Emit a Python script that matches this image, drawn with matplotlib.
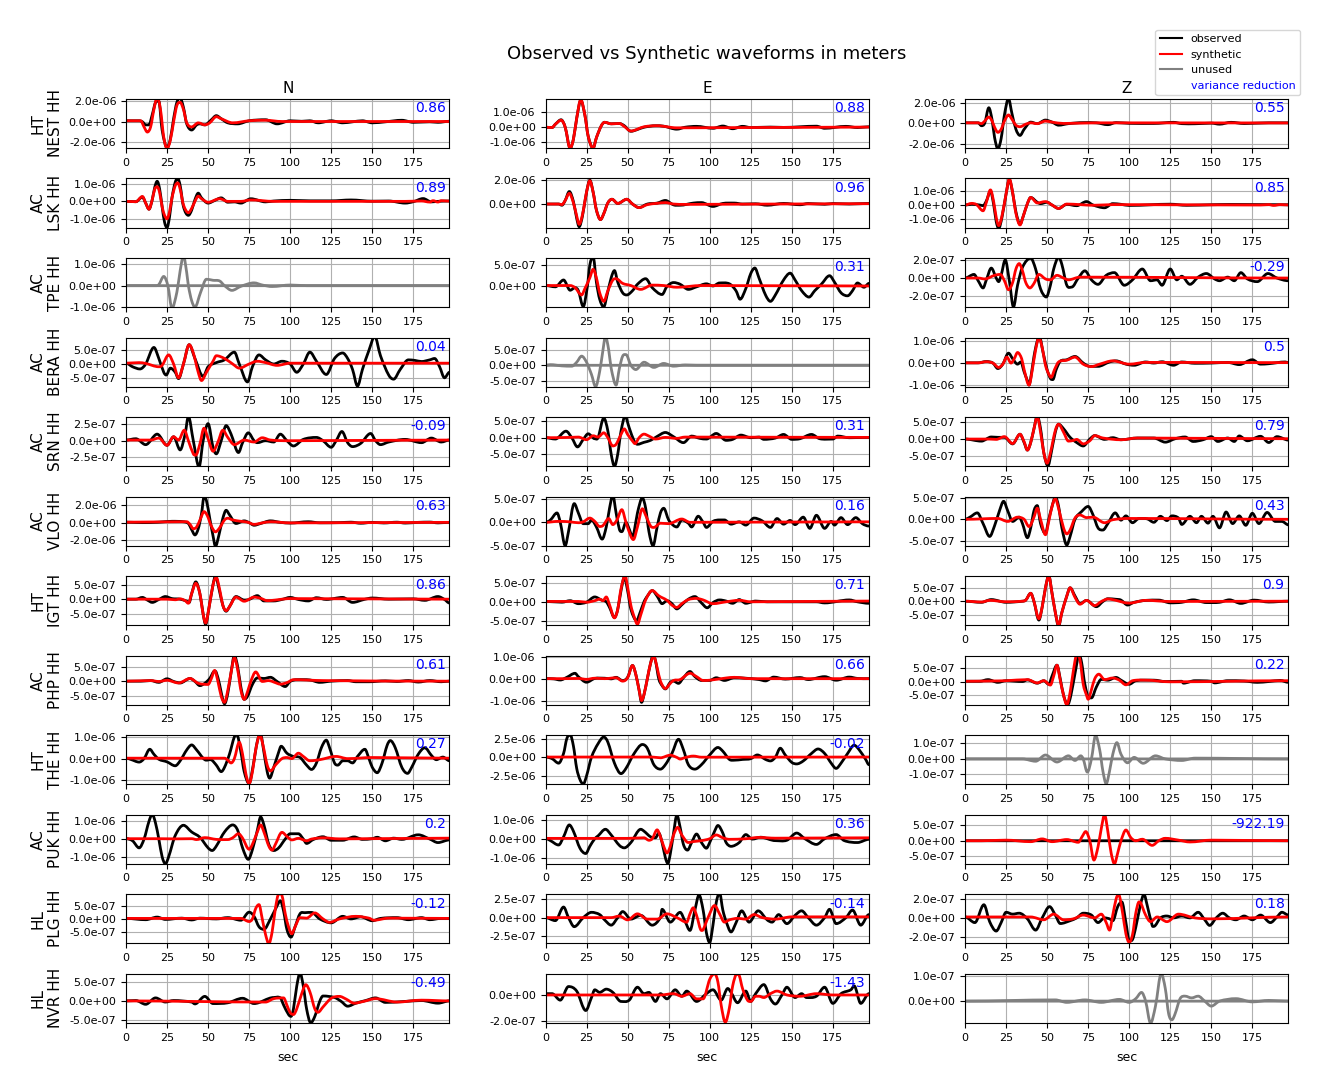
import matplotlib
matplotlib.use("Agg")
import matplotlib.pyplot as plt
from matplotlib.lines import Line2D
from matplotlib.patches import PathPatch
from matplotlib.path import Path

UNIT = 1e-7  # all amplitude lists below are in units of 1e-7 m

# ---------- column N ----------
n_nest_obs_t=[0,8,10,12,14,16,18,20,22,25,27,29,31,33,35,37,40,43,45,48,52,55,58,62,68,75,85,92,100,107,112,117,125,132,138,144,150,158,168,175,185,190,197]
n_nest_obs_y=[1,1,0,-3,-3,7,19,20,-8,-25,-17,3,19,23,14,-2,-8,-3,-2,-3,2,6,3,-1,-2,1,2,-2,1,0.5,1,-1,1,-1,0,1,-1,0,1.5,-0.5,0,-0.5,0.5]
n_nest_syn_t=[0,9,11,13,15,17,19,21,23,25,27,29,31,33,35,37,40,44,48,51,55,58,65,75,85,95,197]
n_nest_syn_y=[1,1,-5,-10,-5,12,24,12,-15,-26,-18,0,16,19,12,-1,-5,-1,-3,-1,5,3,-1,1,1.5,0.3,0.3]
n_lsk_obs_t=[0,6,10,12,14,16,17.5,19,20.5,22,23.5,25,26.5,28,30,31.5,33,35,38,40,42,44,46,50,54,58,62,66,70,76,85,90,100,112,125,137,150,160,170,175,181,186,190,197]
n_lsk_obs_y=[0,-0.2,2.5,-1,-4.5,1,8,11.5,7,-3,-12,-15,-9,2,11,13,9,-3,-8,-5,1,4.7,2,-1,0.5,2,-0.5,-0.3,-1,1.5,-0.3,0.2,0.6,0.3,0.3,0.8,0.1,0.2,-1,-0.2,1.6,-0.3,0,0.2]
n_lsk_syn_t=[0,6,10,12,14,16,17.5,19,20.5,22,23.5,25,26.5,28,30,31.5,33,35,38,40,42,44,46,50,57,62,70,76,90,170,180,185,187,190,192,197]
n_lsk_syn_y=[0,-0.2,2.8,-1,-4.5,1,7,8.4,5,-3,-8,-10,-6,2,9,10.6,7,-2,-6.5,-4,0,3,1.5,-0.5,1.5,0,0,0.8,0,0,0.2,-0.4,0.4,-0.4,0.4,0.1]
n_tpe_obs_t=[0,197]
n_tpe_obs_y=[0,0]
n_tpe_syn_t=[0,18,20,23,25.5,28,31,33,35,37,38,40,42,45.5,49,53,57,60,64.5,70,78,83,89,100,110,197]
n_tpe_syn_y=[0,0,0.5,4.3,0,-10.5,-3,7,14,6,0,-7,-10,-3,3,2.5,2.2,0,-2.2,-0.3,1.3,0.3,-0.4,0.3,0,0]
n_bera_obs_t=[0,4,8.5,12,17,20,23,24.5,27,30,32,35,38.5,42,47,50,55,60,66,69,74,77,81,85,90,95,100,104,108,112,116,122,127,132,135,138,141,144,148,151.5,155,160,163,167,172,176,180,185,188,191,194,197]
n_bera_obs_y=[0.3,-1,-1.8,0,6,2,-3,-4,-1.5,-3,-5.3,0,7,2,-4.5,-1,0.5,1.5,4.3,0,-6.5,-1,3.3,1.5,0,1,0,-3,0,4.3,1,-3.8,2,4,2,-2,-8,-2,5,10,3,-4,-5.5,-2,1.5,1.3,0.9,1.5,2,-1,-5,-3]
n_bera_syn_t=[0,8,12,20,22,26,29,32,35,38.5,41,44,46,49,53,55,60,65,69,75,80,85,92,100,197]
n_bera_syn_y=[0.3,0.5,0.2,-1,-0.5,3.3,0,-5,0,7,4,-3,-6,-3,1,3,2,0,-1.5,0,1,0.5,-0.5,0.3,0.3]
n_srn_obs_t=[0,6,12,19,25,29,33,36,38,41,44.5,47,50,53,55,58,61,64,68.5,71,74.5,78,80,85,90,94,98,102,108,116,120,125,128,131.5,135,138,143,149,152,155,160,170,180,186,192,197]
n_srn_obs_y=[0.1,0.3,-0.6,1,-0.7,0.6,-1.4,1,3.7,0,-4,0,2.6,-1,-2,0,2.3,1,-1.8,-0.3,1.2,0,-0.3,0,-0.2,1,0,-0.8,0.2,0.5,0,-1,0,1.4,-0.3,-0.9,-0.4,1.1,0,-0.6,-0.2,0.2,-0.3,0.4,-0.2,0.1]
n_srn_syn_t=[0,15,20,25,29,32,35.5,38,41,42.5,45,47.5,50,53,56,59,62,66,72,78,83,88,100,197]
n_srn_syn_y=[0.1,0.1,0.4,-0.7,0.6,0.1,1.6,0,-2,-2.2,-0.5,1.9,0.3,-1.6,-0.2,1.6,0.5,-0.6,0.1,-0.2,0.45,0.1,0,0.1]
n_vlo_obs_t=[0,10,20,28,35,38,40,42,44,46,47.5,49,51,53,54.5,56.5,59,61,63,67,72,75,78,82,88,94,100,111,118,130,137,143,150,157,165,170,178,185,190,197]
n_vlo_obs_y=[0.5,0,0.5,1.5,1,-1,-8,-14,-7,10,29,25,5,-15,-27,-15,5,14,9,-1,2,0,-3,-1,2,0.3,-0.5,1,-0.2,0,0.5,-0.7,0.3,-0.4,0.5,-0.5,0.3,0.6,-0.3,0.3]
n_vlo_syn_t=[0,35,37,39,41,43,45.5,47.5,49.5,52,54.5,57,60,62,65,70,74,78,83,88,100,197]
n_vlo_syn_y=[0.5,1,1,-2,-7,-5,5,12.5,8,-4,-10.5,-6,3,5,3,1.5,0.5,-2,-0.3,1,-0.3,0.3]
n_igt_obs_t=[0,6,10,13,16,20,24,28,33,37,38.5,40,42.5,45,47,48.5,50.5,53,54.5,56.5,59,61,63,67,72,75,80,84,90,95,100,105,111,116,122,132,138,145,150,160,175,182,190,194,197]
n_igt_obs_y=[0.1,0.1,0.7,-0.2,-1,0,1,0.3,0.1,-0.6,-1,2,6,2,-5,-8.5,-3,5,8,4,-2,-4,-2.5,1,-0.2,0,1.3,-0.5,-0.5,0,0.7,0,-0.5,0.6,0,0.7,-1,0,0.5,0.1,0.2,-0.3,1,0,-1.2]
n_igt_syn_t=[0,25,30,33,36,38,40,42.5,45,47,48.5,50.5,53,55,57,59,61,63,67,72,78,82,86,100,197]
n_igt_syn_y=[0.1,0.1,-0.1,0.2,-0.4,-1.3,2,5.5,2,-5,-8,-3,5,7.5,3.5,-2,-3.8,-2.5,0.8,-0.6,0.8,0.4,-0.4,0.3,0.1]
n_php_obs_t=[0,9,15,20,25,29,33,39,42,45,48,51,54,55,57,58.5,60,62,64,66,68,70,72,74,77,80,84,88,92,97,100,104,112,118,125,135,140,148,158,165,172,178,185,192,197]
n_php_obs_y=[0.1,0.1,0.3,-0.3,0.9,0,-0.5,1,0,-1.4,-0.6,1,3.5,3,-1,-5,-7.5,-4,3,8.7,5,-2,-6,-5,-1,1.2,1,1.4,0,-1.7,0,0.6,0.5,-0.3,0.1,0.3,-0.1,-0.1,0.2,0,0.3,-0.2,0.3,-0.1,0.1]
n_php_syn_t=[0,15,20,25,32,39,44,50,52,54,56,58,60,62,64,66,68,70,72,74,76,79,83,87,90,94,98,102,120,197]
n_php_syn_y=[0.1,0.3,0,0.4,-0.5,1,-0.6,-1,1,3.7,0,-5,-7,-3,3,8,4,-3,-6,-3.5,0,3.2,0,0.3,-0.2,-0.9,-0.4,0.6,0.3,0.1]
n_the_obs_t=[0,3,8,11,14.5,17,20,25,30,33,37,40,43,48,52,55,58,60,63,66,67.5,70,72,75,77.5,80,82,84,86,87.5,90,93,94.5,98,102,106,110,113,116,119,122,124,127,129,132,135,138,141,145.5,148,150,153,156,159,161,164,168,171.5,174,178,182,186,189,193,197]
n_the_obs_y=[0.2,-0.4,-1.6,0,4.3,2,-0.3,-1.5,-3.3,-1,4,6.3,4,-0.5,-0.6,-3,-6,-4,2,10,11,3,-6,-11.5,-3,8,11,3,-6,-9,-4,3,5.7,2.5,1,0.5,-3,-5,-2,5,8.5,5,-2,-3,-1,-1,-2,1,4.3,0,-4,-6.5,-2,6,8.3,5,-4,-6.8,-4,2,5,1.5,-0.5,0.7,-1]
n_the_syn_t=[0,60,62,64,66,69,71,73,75,77,79,81.5,83.5,86,88,91,95,98,101,105,108,112,118,128,135,150,197]
n_the_syn_y=[0.2,0.2,-0.7,-2,0,7.5,2,-7,-11.5,-6,4,11,6,-3,-5.7,-3,0,0.5,0,2.5,1,-1,-0.5,1,0,0.5,0.2]
n_puk_obs_t=[0,4,8,11,14,16,18,20,22,24,26,30,35,40,45,50,52.5,55,60,65,68,71,74.5,77,80,82,84,87,90,93,97,100,105,108,110,114,120,125,132,139,144,150,153,158,163,168,178,185,190,197]
n_puk_obs_y=[0.2,-1,-5,0,10,14,9,0,-10,-14,-10,2,7.8,4,1,-5,-6.5,-4,4,8,5,-5,-11.5,-6,5,12.5,8,-3,-6.5,-5,0,3,3,0,-2.5,-0.3,1.3,-0.7,-0.7,1.2,-0.2,0.2,1,-1,0.5,-0.2,2.4,0,-2,-0.5]
n_puk_syn_t=[0,20,30,40,43,48,55,62,65,68.5,71,75,77,80,82,84,87,89,91,95,98,101,105,110,113,120,130,197]
n_puk_syn_y=[0.2,0.2,0.1,0.2,-0.3,0.8,-0.2,-0.3,0.7,3,0.5,-5.8,-3,4,8,4,-4,-6.3,-3,3.8,1.5,-0.5,0.4,-1,0,0.7,0.1,0.5]
n_plg_obs_t=[0,12,19,24,34,40,45,55,62,70,75,78,81,84,88,92,94,96,98,100.5,103,106,109,113,118,125,132,137,143,150,155,165,172,180,185,192,197]
n_plg_obs_y=[0.2,-0.3,0.7,-0.2,0.3,-0.4,0.3,0,0.5,-0.5,2.6,1,-3,-4,0,5,7,3,-4,-7,-3,2,2.4,2.5,0,-1.5,1,0,0.8,-0.7,0.2,0.5,-0.3,0.5,-0.3,0.2,0.2]
n_plg_syn_t=[0,70,75,77,79,81,83,85,87,89,91,93,95,97,99,101,103,106,110,115,120,124,130,140,148,151,160,197]
n_plg_syn_y=[0.2,0.2,-1,0,4,5.5,0,-6,-9.5,-5,4,9.5,9,2,-3,-5.7,-3,0.5,0.3,2.3,0,-1.3,0,1,0.3,-0.5,0.3,0.2]
n_nvr_obs_t=[0,6,12,18,24,29,40,42,48,53,62,71,78,90,94,96,99,100.5,102,104,106,108,110,112.5,115,118,120,127,131,135,140,146,152,158,168,180,190,197]
n_nvr_obs_y=[0.1,0.2,-0.8,0.9,-0.2,0.2,-0.2,-0.7,1.3,-0.6,-0.4,0.8,-0.6,1,0.9,-1,-3.5,-4,-2,4,7.5,4,-2,-5.7,-4,0,1.4,1,0,-1.3,-0.5,0.2,0.9,-0.3,-0.1,0.2,-0.5,0.1]
n_nvr_syn_t=[0,85,90,96,98,100,102,104,107,109.5,112,115,117,120,125,130,134,139,145,152,165,180,197]
n_nvr_syn_y=[0.1,-0.2,0.7,0.9,-1,-3,-3.5,-2,2,4.4,2.5,-2,-2.9,-1.5,0.8,1.3,0.6,-0.5,0,0.7,-0.2,0.3,0.1]

# ---------- column E ----------
e_nest_obs_t=[0,4,6,9.5,12,15,17,19,21.5,24,26,29,31,34,36,40,45,48,52,56,60,67,72,80,85,92,102,108,114,120,125,137,145,165,170,183,190,197]
e_nest_obs_y=[0,-0.2,2,5,0,-14,-8,6,18,8,-6,-14,-7,1,3.3,2.3,2.5,1,-2.7,-1.5,0,1,0.7,-1.3,0,0.6,-0.7,0.8,-1,0.6,-0.2,0.1,-0.1,0.7,-0.7,0.6,-0.2,0.3]
e_nest_syn_t=[0,4,6,9.5,12,15,17,19,21.5,24,26,29,31,34,36,40,45,48,52,60,68,80,197]
e_nest_syn_y=[0,-0.2,2,4.7,0,-14,-8,6,18.5,8,-6,-14,-7,1,3.3,2.3,2.5,0.5,-2.5,0.3,1,-0.4,0.1]
e_lsk_obs_t=[0,8,10,12,14.5,17,19,20.5,22.5,25,27,29,31,33.5,35.5,38,40.5,44,49.5,53,57,62,68,73,78,82,90,95,102,108,115,120,128,135,145,155,160,170,175,185,197]
e_lsk_obs_y=[0,0,-1,3,10.5,2,-12,-19,-10,10,20,10,-5,-13,-8,1,4,0.5,4,0,-3,0,0.8,3,-0.7,-1,0.8,1.2,-2,0.5,0.8,0,0.2,-1,0.5,-0.6,0.4,-0.2,0.4,0,0.5]
e_lsk_syn_t=[0,8,10,12,14.5,17,19,20.5,22.5,25,27,29,31,33.5,35.5,38,40.5,44,49.5,53,57,62,68,73,78,85,197]
e_lsk_syn_y=[0,0,-0.5,3,9,1,-10,-17,-9,10,19.5,10,-5,-13,-8,1,4,0.5,4,0,-3,-0.5,0.6,1.2,0,-0.3,0.3]
e_tpe_obs_t=[0,6,11,15,18,20,23,25.5,27,29,31,33,35.5,37.5,40,42,44,47,49.5,53,56,61,65,71,74,78,82,87,92,98,102,106,112,116,118.5,122,125,127.5,130,134,137,140,145,149,152,156,160.5,164,168,173,176,180,184,187,190,194,197]
e_tpe_obs_y=[0.2,-0.1,1.5,-0.9,-0.3,-1,-4.7,0,5,7,1,-3,-4.8,-2,2,3.7,1,-1.5,-2,-1,0.5,1.8,-0.3,-1.9,0,0.9,0.5,-0.7,-0.1,0.6,0.1,0.8,0.6,-1,-3,-0.5,3,4.3,2,-2,-3.5,-2,1.5,3.1,1.5,-1,-2.5,-1,0.5,2.5,1,-1.5,-2.2,-1,0.8,-0.2,0.7]
e_tpe_syn_t=[0,15,18,22,24,27,29,31,33,35.5,38,41,43,47,52,58,65,72,80,95,197]
e_tpe_syn_y=[0.2,0.2,-0.3,-2,-0.5,2,4,2,-1.5,-3.5,-1,1.5,1.8,0.7,0.2,-0.7,0.3,0.2,-0.2,0.2,0.1]
e_bera_obs_t=[0,197]
e_bera_obs_y=[0,0]
e_bera_syn_t=[0,3,10,16,19,22,25,28,30.5,33,35,36.5,38.5,40,43,45,47,49,52,55,60,66,72,78,85,92,197]
e_bera_syn_y=[0,0.2,-0.2,-0.3,1,3,1,-3,-7,-2,5,9.5,5,-1,-6.5,-1,3,3.5,0,-1.4,1,-0.7,0.6,-0.3,0.1,0,0]
e_srn_obs_t=[0,6,12.5,16,19.5,23,26,30,32,35.5,38,40,42,44,46,48.5,51,54,56,60,64,68,73,78,84,89,94,98,104,110,114,119,125,130,133,140,145,150,155,162,167,175,178,185,197]
e_srn_obs_y=[0,-0.4,2,0,-2.8,-0.5,1.2,-0.3,0,6,2,-5,-8.7,-5,2,6.5,3,-1,-2,-1.4,-0.8,0.4,1.6,0.3,-1.5,0.5,-0.2,-0.4,1.3,-0.8,-0.5,0.8,0,0.2,-0.5,-0.1,1,-0.5,-0.3,1,-0.3,-0.4,0.5,0,0.1]
e_srn_syn_t=[0,15,20,25,29,32,35.5,38,41,43,46,48,50,53,54.5,57,60,63,67,73,80,85,197]
e_srn_syn_y=[0,0.1,0.2,-0.6,0.6,0.2,1.5,0,-2.5,-2,1,2.7,1,-1,-1.8,0,1.1,0.5,-0.4,0.1,-0.2,0.2,0.1]
e_vlo_obs_t=[0,3,7,9,12,14,17.5,20,23,26,28,31,34.5,37,39,41,43,45,46.5,49,50.5,53,54,56,59,61,63,65.5,68,70,72,75,78,80,83,87,89,93,96,98,102,106,109,113,118,122,127,132,137,141,145,149,152,157,161,165,170,174,176,180,184,189,193,197]
e_vlo_obs_y=[0,0.5,2,0,-5,-2,4,2,-0.3,-0.3,0.5,-1,-3.6,-1,3,5.8,2,-1.5,-2,0,-1,-3,-2,2,5.2,3,-2,-5,-1,2,3,0.5,-0.7,-1,0.5,-0.2,-1,1.3,0,-1.1,0.2,0.5,0.5,-0.4,0.1,-0.6,0.9,0.3,-1.1,0.8,-0.4,0.4,-0.5,1.1,-1.3,1.5,-1.3,0.2,-0.6,1,-0.5,1,-0.3,-0.8]
e_vlo_syn_t=[0,8,15,20,23,27,30,33,35,38.5,41,43.5,46.5,49,52,53.5,56,59,61,64,66,70,75,83,88,197]
e_vlo_syn_y=[0,0.2,0.1,-0.1,0.1,0.9,0.2,-0.9,-0.7,0.8,-0.5,0.5,2.7,0,-3,-3.7,-1,2.9,1.5,-0.8,-1.1,-0.2,-0.3,0.7,0,0.1]
e_igt_obs_t=[0,10,15,20,25,30,34,37,39,42,44,46,48,50,52,55.5,57.5,60,62,65,68,71,74,77,80,83,87,91,95,98.5,102,106,110,114,118,122,128,135,165,170,185,190,197]
e_igt_obs_y=[0.1,-0.1,0.3,-0.5,-0.1,1.3,0.5,0,-1.5,-4.2,-2,3,6.5,3,-2,-5,-3,0,1.5,3,1.5,-0.5,0.3,-0.5,-1.9,-0.8,0.7,1.4,-0.3,-1.6,-0.2,0.5,0.2,-0.4,0.6,-0.4,0.2,0,0,-0.3,0.5,0,-0.4]
e_igt_syn_t=[0,20,25,30,33,35,37,39,42,44,46,48.5,50,52,54,56,58,61,65,69,74,77,80,83,87,92,96,102,110,118,125,197]
e_igt_syn_y=[0.1,0.1,-0.1,0.3,0.7,0.3,1.3,-0.8,-4.3,-2,3.5,7,4,-1,-4,-6,-3.5,0.5,3,1.6,0.4,-0.9,-1.5,-0.5,0.6,0.9,0.5,-0.5,0,0.4,0,0.2]
e_php_obs_t=[0,5,9,13,18,20,25,30,36,40,43,47,50,53,55,57,58.5,60,62,64,65.5,67,69,71,73,76,78,81,84,88,91,95,100,104,109,115,122,130,134,139,146,155,160,170,177,185,190,197]
e_php_obs_y=[0.1,0,-0.5,0.7,2.5,1,-1.5,0.2,0.3,0,0.7,-0.8,0.7,6,2,-5,-10.5,-7,0,7,10.5,8,0,-3,-4.5,-1.5,-1,-2,0.5,3.3,1,-0.7,-0.7,0.5,-0.7,0.5,0.3,-0.3,-0.9,0.8,-0.1,0.6,-0.3,1,-0.6,0.8,0.2,0.1]
e_php_syn_t=[0,10,20,25,30,36,43,47,50,53,55,57,58.5,60,62,64,66,68,70,73,76,78,82,88,92,96,100,110,115,125,135,197]
e_php_syn_y=[0.1,0.1,0.2,-0.2,0.3,0.1,0.5,-1,0.5,6,2,-5,-9.7,-7,0,7,10,5,-1,-4.3,-2,-0.7,-0.3,2.5,1,-0.7,-0.6,0.4,0.7,0.1,0.1,0.1]
e_the_obs_t=[0,4,8,11,13,15,17,19,21,23,25,28,32,35.5,38,42,46,49,54,59,62,66,70,73,77,81,84,87,91,95,100,105,108,112,115,120,125,129,134,137,140,143,146,150,153,157,162,166,170,174,177,180,184,188,191,195,197]
e_the_obs_y=[0.2,-2,-8,5,25,30,15,-15,-30,-36,-25,0,18,27,20,-8,-22,-15,5,17,12,-10,-16,-10,5,24,10,-10,-16,-10,3,13,8,-3,-4,-3,-2,3,-3,-5,0,12,3,-7,-9,-5,5,11,5,-8,-15,-8,5,16,10,-3,-10]
e_the_syn_t=[0,65,70,76,80,82,85,90,95,197]
e_the_syn_y=[0.2,0.2,-0.8,2.7,-0.3,-2.5,-0.5,1.5,0,0.2]
e_puk_obs_t=[0,3,8,11,14.5,17,21,24.5,27,30,32,36.5,40,45,48,52,58,60,64,67,69,71,73,74.5,76,78,80,82,84,86.5,89,92,95,98,100,103,105,108,110,113,118,122,126,131,140,147,153,158,165,170,177,182,190,197]
e_puk_obs_y=[0.2,-1,-3.3,1,7.3,4,-5,-7.8,-4,0,1.5,5,2,-3.5,-4.8,-2,5,4,1,0.5,3,-2,-10,-13,-8,3,12.5,6,-3,-6,-2,2.5,-2,-5,-2,4,7,3,-2,-4,-2,2.2,-0.2,0.8,-1,-0.8,3,0,-3,0,2.2,-1,-2,-0.3]
e_puk_syn_t=[0,50,60,63,65,68,70,72,74,76,78,80.5,83,87,90,95,100,104,108,112,122,130,140,197]
e_puk_syn_y=[0.2,0.2,0.5,-0.8,0,4.7,1,-4,-7.5,-4,2,6,2,-2,-1.5,-1,0,2,0.5,-0.3,0,0.7,0.3,0.5]
e_plg_obs_t=[0,6,11,14,17.5,23,28,33,36,40,44,47,52,58,65,70,71,76,82,85,88,91,93.5,96,98,100,102,104,106,108,110,113,116,119.5,124,129.5,135,138,142,147,152,156,160,165,170,173,177,183,187,192,197]
e_plg_obs_y=[0,-0.4,1.4,0,-1.2,0,0.7,0.4,-0.3,-1,0,0.8,-0.2,0.3,-1,0,1.1,-0.6,0.7,-0.5,-1.7,1,3,1,-2,-3.3,-1,2,3.3,1,-0.5,-1.9,-0.7,0.9,-0.6,0.9,-0.3,-0.6,0.4,-0.8,0.3,0.9,0,-1,0,1.1,-0.8,0,1,-1,0.4]
e_plg_syn_t=[0,40,45,50,56,62,68,74,80,86,88,90,92,95,96,99,103,106,109,112,117,122,127,132,140,150,197]
e_plg_syn_y=[0,0,0.2,-0.3,0.5,-0.2,-0.2,0.5,0,-0.6,0.5,1.3,0.3,-1.7,-1.6,0,1.6,0.5,-0.6,-0.3,-0.1,-0.2,0.4,0,-0.2,0.1,0.1]
e_nvr_obs_t=[0,4,9,14,19,24.5,28,30,33,37,41,46,51,56,60,63,67,70,74,79,83,86,92,98,102,107,111,113,117,122,125,128,133,137,140,144,147,152,156,159,165,170,175,180,186,188,192,197]
e_nvr_obs_y=[0.1,0.1,-0.4,0.65,0.3,-1.2,-0.2,0.4,0.2,0.45,0.2,-0.5,-0.4,0.6,0.1,0.2,-0.5,0.1,-0.3,0.4,-0.1,0.3,-0.5,0.1,0.4,-0.4,0.5,0.2,-0.6,0.3,-0.5,0.1,0.8,-0.3,-0.7,0,0.6,-0.2,0.1,-0.2,-0.1,0.6,-0.65,0.1,0.4,0.7,-0.65,0.1]
e_nvr_syn_t=[0,70,78,83,88,92,96,100,103,105,107,109.5,112,114,116.5,118,120,123,125,128,130,133,137,141,147,155,165,175,197]
e_nvr_syn_y=[0,0,0.1,-0.1,0.1,-0.3,-0.3,1.2,1.64,1,-0.8,-2.1,-1,0.7,1.6,1.5,0.5,-0.4,-0.5,-0.1,-0.1,-0.2,0.1,0.3,0,-0.1,0.1,0,0]

# ---------- column Z ----------
z_nest_obs_t=[0,8,10,12,14.5,16.5,18,20,22,24,26.5,28.5,31,33.5,36,40,44,49,53,57,63,72,80,87,92,100,115,127,132,140,150,155,162,170,185,197]
z_nest_obs_y=[0.3,0.3,-2.5,0,15,3,-14,-25,-15,8,24,10,-6,-12,-6,1,-0.5,3,1,-2,-0.5,0.5,0.3,-1.5,0.5,-0.2,-0.3,0.8,-0.5,-0.6,0,-1,0.8,-0.4,0.3,0.3]
z_nest_syn_t=[0,8,10,12,14.5,16.5,18,20,22,24,26.5,28.5,31,33.5,37,40,44,49,53,60,80,197]
z_nest_syn_y=[0.3,0.3,-0.5,2,6,2,-4,-9,-6,2,8,4,-2,-3.5,-1,0.3,-0.5,2,1,-0.3,0.3,0.2]
z_lsk_obs_t=[0,4,9,11,13,15.5,17.5,19,20.5,22.5,25,27,29,31,33.5,35.5,38,40,44,46,50,53,57,62,68,74,78,85,90,95,100,125,135,150,162,197]
z_lsk_obs_y=[0,0.5,0,-0.5,3,10,0,-12,-17,-9,8,18.5,9,-5,-14,-8,1,5.5,2,1,2,0,-2.5,0.5,-0.5,2.5,0,-2,1,0.5,-0.3,0.6,-0.2,0.2,0.4,0.2]
z_lsk_syn_t=[0,4,7,11,13,15.5,17.5,19,20.5,22.5,25,27,29,31,33.5,35.5,38,40,44,49,53,57,62,70,78,90,180,185,188,192,197]
z_lsk_syn_y=[0,1.2,0.3,-4.2,2,11,2,-9,-15,-8,8,19,9,-6,-14.5,-8,1,5.5,1.5,2.5,0,-2.5,0.7,0.3,-0.2,0.3,0,0.3,-0.3,0.3,0]
z_tpe_obs_t=[0,5.5,8,11,13,16,19,20.5,22,24.5,27,29.5,32,35,40,43,46,49.5,52,54,57,59,62,65,69,73,77,81,86,91,97,102,108,113,117,120,125,129,132,137,142,147,152,155,160,164,168,172,178,184.5,190,197]
z_tpe_obs_y=[0,0.4,-0.3,-1.1,-0.2,1.1,0,-0.4,0.3,2,-0.3,-3.2,-0.8,1.2,2.2,1,-1.2,-2.1,-0.8,1,2.3,1.5,-0.8,-1,0,0.8,-0.2,-0.7,0.3,0.6,-0.8,-0.2,1,-0.3,-0.2,-0.8,1,-0.2,0.2,-0.7,0.1,0.5,-0.1,-0.3,0.1,-0.3,0.6,-0.1,-0.4,0.5,0,-0.3]
z_tpe_syn_t=[0,8,12,18,21.5,24,26.5,29,31,33,35,37,39.5,42,45,49,52,56,60,63,70,197]
z_tpe_syn_y=[0,0,-0.1,0.3,0.4,-0.3,-1.3,-0.5,1,1.6,0.8,-0.5,-1.1,-0.6,0.4,-0.1,-0.2,0.3,0,-0.2,0.1,0]
z_bera_obs_t=[0,8,13,17,20,23,26.5,29,32,34,36,38,39,40,42,44,45.5,47.5,50,52,53.5,55.5,58,62,67,72,76,81,88,92,98,103,110,115,120,127,132,140,150,160,167,175,180,185,195,197]
z_bera_obs_y=[0.1,0.1,0.7,0,-2.5,-0.5,4.5,2,-0.5,0.5,-4,-8,-10,-7,3,10,11.5,5,-3,-7,-7.5,-3,0.8,1.5,3,0,-1.5,-1.5,0.5,1,-0.5,-1,0.5,0,0.6,-1,0.5,-0.1,0,0.3,-0.7,1.5,-0.5,-0.3,0.5,0.2]
z_bera_syn_t=[0,8,13,17,20.5,23,25.5,28,30,32,34.5,36,39,41,43,45,47,49,51,52.5,54.5,57,62,67,72,77,82,90,100,110,120,197]
z_bera_syn_y=[0.1,0.1,0.6,0,-2,-0.5,2.7,0,2,4.8,2,-3,-10,-3,6,11.5,7,-1,-5,-6.5,-3,0.5,1.3,2.7,-0.5,-1.6,-0.5,1,-0.5,0.3,0.3,0.2]
z_srn_obs_t=[0,10,16,20,24,29,33.5,36,38,40,42,44,46,48,50.5,52.5,55,57,60,64,68,72,76,79,85,90,95,105,115,122,128,134,139,145,150,154,160,164,167,172,180,185,190,197]
z_srn_obs_y=[0,-0.6,0.6,0.5,0.5,-1.4,1.4,-1,-3.2,-1,3,6.7,3,-4,-7.8,-4,2,4.3,3,0.5,-1,-2,0,1,-0.1,0.4,-0.2,0.3,0.3,-0.9,0.1,0.6,-0.7,-0.2,0.7,-0.7,0.3,-0.7,0.9,-0.5,0.8,-1,0.7,-0.3]
z_srn_syn_t=[0,15,19,24,29,33.5,36,38,40,42,44,46,48,50,52,55,57,60,63,66,68,72,76,79,84,95,105,197]
z_srn_syn_y=[0,0,-0.1,0.7,-1.3,1.4,-0.8,-3.2,-1,3,6.5,2,-4,-7,-4,2.5,4.3,2,-0.6,-0.4,-0.1,-1.4,-0.5,1,0.3,-0.2,0.3,0.1]
z_vlo_obs_t=[0,3,7.5,11,15,18,21,23.5,26,29,33,35,38,40,42,44,46,49,51,53,55,57,59,62,64,67,71,75,78,81,84,87,91.5,95,98,102,106,111,115,119,123,126,130,132,137,141,144,148,151,155,159,163,167,171,175,179,184,189,193,197]
z_vlo_obs_y=[0,0.5,1.5,-1,-4,-1.5,2,4.2,2,-0.5,0.5,-1,-4.3,-2,2,3.2,-1,-3.3,0,3,5.2,3,-2,-6,-4,0,1.8,3,1,-2,-2.5,-1,1.5,-0.2,0.8,-0.8,0.2,0.1,-0.7,0.7,-0.3,0.8,0.3,-1.2,0.7,-0.8,0.7,-0.9,0.7,-2,1.7,-1,0.8,-1.4,1.4,-1,1.6,-0.5,-0.5,-1.3]
z_vlo_syn_t=[0,20,26,32,36,39,42,44,46,49,51,53,55,57,60,62,64,67,70,74,78,85,90,100,197]
z_vlo_syn_y=[0,0.2,-0.5,0.5,0,-1.7,0.5,2.6,0,-3.6,-0.5,3,4.8,2.5,-2,-3.4,-2.5,0.3,1,0.4,0.5,-0.8,-0.1,0.2,0]
z_igt_obs_t=[0,10,16,25,35,37,40,42,45,47,49,51,53,55,57,59,62,64,67,70,74,80,84,87,92,95,99,103,110,118,125,132,139,147,155,161,168,176,185,197]
z_igt_obs_y=[0.1,-0.3,0.7,-0.3,0.1,0.5,3,0,-6.8,-2,5,9.5,3,-4,-9,-4,2,5,2,-0.8,0.4,-1.9,0,1,0.8,0.5,-1.3,-0.3,0.4,0.5,-0.5,-0.3,0.6,-0.4,-0.3,0.6,-0.7,0.5,-0.2,0.1]
z_igt_syn_t=[0,10,15,25,35,37,40,42,45,47,49,51,53,55,57,59,62,64,67,70,74,79,83,87,92,97,100,110,125,197]
z_igt_syn_y=[0.1,-0.2,0.4,-0.1,0.1,0.5,3,0,-6.3,-2,5,9.3,3,-4,-8.7,-4,2,5,1.5,-1,0.4,-1.5,0,0.9,0.4,-0.4,-0.6,0.4,0,0.1]
z_php_obs_t=[0,9,14,20,25,35,38,44,48,51,53,56,58,60,62.5,64.5,67,69.5,71,73,75.5,77,80,83,87,92,95,100,104,115,122,132,133,140,150,152,160,170,178,185,192,197]
z_php_obs_y=[0.1,0.1,0.7,-0.3,0.3,0,0.6,-0.6,0.3,-1,2,6,1,-5,-8.5,-5,3,9.7,7,-1,-6,-6,-2,0.8,0.5,1.5,0.5,-1,0.3,0.5,0,0.1,-0.6,0.3,0.1,-0.5,0.3,0.2,-0.3,0,0.4,-0.3]
z_php_syn_t=[0,15,25,38,44,48,52,54,56,58,60,62,64,66,68,70,72,74,75,77,79,81.5,85,90,94,98,102,110,125,197]
z_php_syn_y=[0.1,0.2,0.3,0.7,-0.5,0.3,-1.3,2,6,0.5,-5,-8.5,-4,4,9.7,8,-1,-5,-6.5,-3,1,2.7,0.7,1.3,0.5,-1.2,0.3,0.5,-0.1,0.3]
z_the_obs_t=[0,197]
z_the_obs_y=[0,0]
z_the_syn_t=[0,35,43,49,56,63,67,70.5,72,74.5,77,79.5,82,84,86,88,90,92.5,95,99,103,108.5,116,122,132,140,197]
z_the_syn_y=[0,0,-0.15,0.25,-0.2,0.2,-0.1,0.2,0,-0.85,0,1.5,0.6,-0.8,-1.6,-0.8,0.3,1.05,0.3,-0.25,0.1,-0.28,0.2,0,-0.1,0.05,0]
z_puk_obs_t=[0,197]
z_puk_obs_y=[0,0]
z_puk_syn_t=[0,10,25,40,47,53,62,69,71.5,73.5,76,78.5,81,83,85,87,89,91,93,95,98,101,104,108,114,118,122,130,137,150,197]
z_puk_syn_y=[0,0,0.2,-0.3,0.6,-0.3,0.4,-0.5,1.5,3,0,-6.3,-2,4,8.5,3,-4,-7.5,-4,0,3.5,1,0,0.5,-1.5,0,0.8,0.2,-0.4,0.2,0]
z_plg_obs_t=[0,6,11.5,15,19,22,25,29,33,38,43,47,51.5,55,58,64,68,72,77,81,85,88,90,93,95.5,98,100,102,104,107,109,111,114,115,119,123,127,132,137,142,146,149,153,157,161,165,170,175,180,186,190,193,197]
z_plg_obs_y=[0.1,-0.5,1.4,-0.4,-1.4,-0.5,0.6,0.4,0.5,-0.1,-1.3,0,1.2,0.3,-0.6,-0.3,0,0.5,0.3,-0.5,0,-0.1,-0.3,1.2,1.7,-0.5,-2.4,-2.3,-1,1.5,2.5,1.3,-0.8,-0.9,0,0.2,0,0.2,0,0.6,-0.2,-0.8,0,0.5,0,-0.2,0.2,-0.2,0.3,-0.5,0.1,0.6,0.3]
z_plg_syn_t=[0,40,48,54,60,66,72,79,83,86,88,90,92,93.5,96,98,100,102,104,106,107,110,113,117,123,130,140,150,197]
z_plg_syn_y=[0.1,0.1,-0.2,0.4,-0.2,-0.1,0.3,0,0.4,-0.5,-1.3,0.3,2,2.5,0.5,-1.7,-2.6,-1.8,0.5,1.7,1.6,0.3,-0.4,0.1,-0.4,0.4,0,-0.1,0.1]
z_nvr_obs_t=[0,197]
z_nvr_obs_y=[0,0]
z_nvr_syn_t=[0,55,62,73,83,94,100,104,107.5,110,113,116,119.5,122,124,126,128,131,134,138,142,146,150,155,165,175,185,197]
z_nvr_syn_y=[0,0.05,-0.05,0.05,-0.05,0.07,-0.05,0.1,0.35,0,-0.88,-0.2,1.1,0.5,-0.5,-0.75,-0.5,0.1,0.2,0.13,0.2,0,-0.2,0,0.1,-0.03,0.03,0]

# ---------- panel metadata ----------
row_labels=["HT\nNEST HH","AC\nLSK HH","AC\nTPE HH","AC\nBERA HH","AC\nSRN HH","AC\nVLO HH","HT\nIGT HH","AC\nPHP HH","HT\nTHE HH","AC\nPUK HH","HL\nPLG HH","HL\nNVR HH"]
stations=["nest","lsk","tpe","bera","srn","vlo","igt","php","the","puk","plg","nvr"]
components=["N","E","Z"]
vr_labels={
 "n":["0.86","0.89",None,"0.04","-0.09","0.63","0.86","0.61","0.27","0.2","-0.12","-0.49"],
 "e":["0.88","0.96","0.31",None,"0.31","0.16","0.71","0.66","-0.02","0.36","-0.14","-1.43"],
 "z":["0.55","0.85","-0.29","0.5","0.79","0.43","0.9","0.22",None,"-922.19","0.18",None],
}
y_limits={
 "n":[(-25.6,22.3),(-15,13.1),(-10,12.9),(-8.2,9.6),(-3.87,3.6),(-26.2,29.6),(-8.75,7.95),(-7.8,8.67),(-11.8,10.8),(-14,13.8),(-9.36,9.5),(-5.7,7.3)],
 "e":[(-13.9,18.9),(-19.7,21.4),(-4.84,6.64),(-7,9.1),(-8.66,6.3),(-5,5.5),(-6.25,6.87),(-11.55,10.4),(-36.2,29.5),(-13.2,12.7),(-3.4,3.1),(-2.15,1.64)],
 "z":[(-24.3,23.6),(-16.4,19.3),(-3.22,2.22),(-10.7,11.6),(-7.84,6.37),(-6.15,5.3),(-8.66,9.27),(-8.5,9.5),(-1.63,1.53),(-7.5,8.5),(-2.7,2.52),(-0.87,1.1)],
}
y_ticks={
 "n":[[-20,0,20],[-10,0,10],[-10,0,10],[-5,0,5],[-2.5,0,2.5],[-20,0,20],[-5,0,5],[-5,0,5],[-10,0,10],[-10,0,10],[-5,0,5],[-5,0,5]],
 "e":[[-10,0,10],[0,20],[0,5],[-5,0,5],[-5,0,5],[-5,0,5],[-5,0,5],[-10,0,10],[-25,0,25],[-10,0,10],[-2.5,0,2.5],[-2,0]],
 "z":[[-20,0,20],[-10,0,10],[-2,0,2],[-10,0,10],[-5,0,5],[-5,0,5],[-5,0,5],[-5,0,5],[-1,0,1],[-5,0,5],[-2,0,2],[0,1]],
}
x_ticks=[0,25,50,75,100,125,150,175]

series=globals()


def smooth_trace(ax,t,y,color,lw=2.0):
    """Draw the read samples as one rounded curve that passes through each of them."""
    n=len(t)
    slopes=[(y[i+1]-y[i])/(t[i+1]-t[i]) for i in range(n-1)]
    tang=[0.0]*n
    for i in range(1,n-1):
        if slopes[i-1]*slopes[i]>0:
            tang[i]=(y[i+1]-y[i-1])/(t[i+1]-t[i-1])
    verts=[(t[0],y[0]*UNIT)]
    codes=[Path.MOVETO]
    for i in range(n-1):
        h=(t[i+1]-t[i])/3
        verts+=[(t[i]+h,(y[i]+tang[i]*h)*UNIT),(t[i+1]-h,(y[i+1]-tang[i+1]*h)*UNIT),(t[i+1],y[i+1]*UNIT)]
        codes+=[Path.CURVE4]*3
    ax.add_patch(PathPatch(Path(verts,codes),fill=False,edgecolor=color,lw=lw,joinstyle="round",capstyle="projecting",zorder=2.5))


fig,axes=plt.subplots(12,3,figsize=(13.29,10.91),dpi=100)
fig.subplots_adjust(left=0.0948,right=0.9695,top=0.9093,bottom=0.0625,hspace=0.62,wspace=0.297)

for c,comp in enumerate(components):
    key=comp.lower()
    for r,st in enumerate(stations):
        ax=axes[r,c]
        vr=vr_labels[key][r]
        used=vr is not None
        smooth_trace(ax,series[f"{key}_{st}_obs_t"],series[f"{key}_{st}_obs_y"],"black" if used else "gray")
        smooth_trace(ax,series[f"{key}_{st}_syn_t"],series[f"{key}_{st}_syn_y"],"red" if used else "gray")
        lo,hi=y_limits[key][r]
        ax.set_ylim(lo*UNIT,hi*UNIT)
        ax.set_xlim(0,197)
        ax.set_xticks(x_ticks)
        ticks=[v*UNIT for v in y_ticks[key][r]]
        ax.set_yticks(ticks)
        ax.set_yticklabels([f"{v:.1e}" for v in ticks])
        ax.tick_params(labelsize=8)
        ax.grid(True)
        if used:
            ax.text(0.988,0.81,vr,transform=ax.transAxes,ha="right",va="center",color="blue",fontsize=10)
        if c==0:
            ax.set_ylabel(row_labels[r],fontsize=11,labelpad=4)
        if r==0:
            ax.set_title(comp,fontsize=11,pad=4)
        if r==11:
            ax.set_xlabel("sec",fontsize=9,labelpad=6)

fig.suptitle("Observed vs Synthetic waveforms in meters",fontsize=13,x=0.532,y=0.9583)
handles=[Line2D([],[],color="black"),Line2D([],[],color="red"),Line2D([],[],color="gray"),Line2D([],[],color="none")]
names=["observed","synthetic","unused","variance reduction"]
leg=fig.legend(handles,names,loc="upper right",bbox_to_anchor=(0.9782,0.9727),fontsize=8,borderaxespad=0)
leg.get_texts()[3].set_color("blue")
fig.savefig("out.png",dpi=100)
